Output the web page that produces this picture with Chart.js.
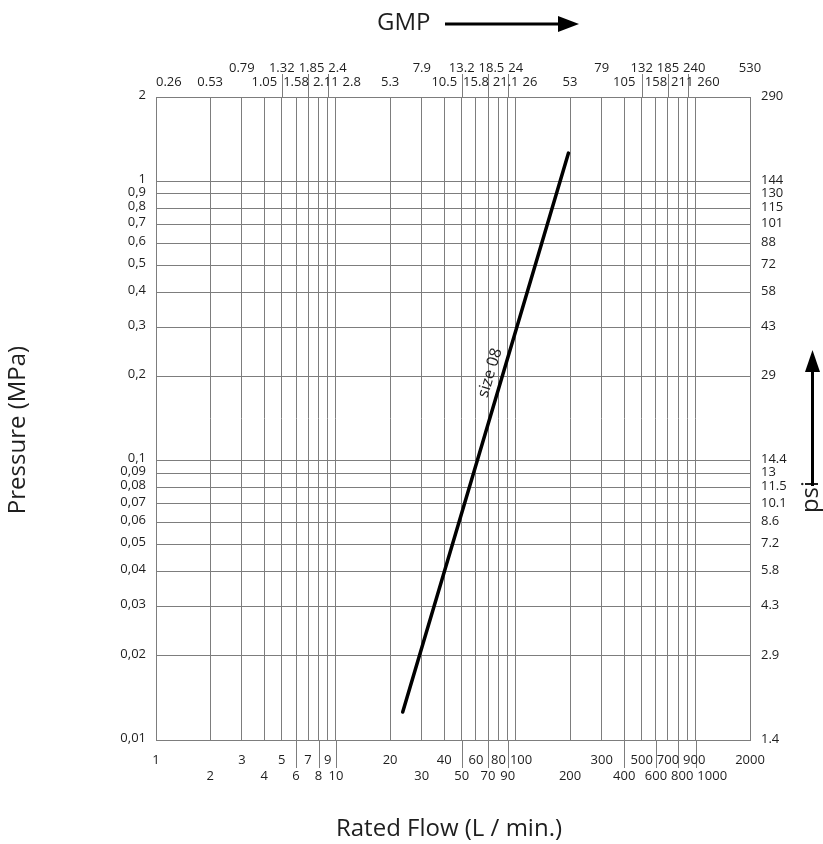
<!DOCTYPE html>
<html>
<head>
<meta charset="utf-8">
<script src="https://cdn.jsdelivr.net/npm/chart.js@4/dist/chart.umd.min.js"></script>
<style>
  html, body { margin: 0; padding: 0; background: #fff; }
  #wrap { width: 823px; height: 844px; position: relative; }
</style>
</head>
<body>
<div id="wrap"><canvas id="chart"></canvas></div>
<script>
// Daten
const flowTicks = [1, 2, 3, 4, 5, 6, 7, 8, 9, 10, 20, 30, 40, 50, 60, 70, 80, 90, 100,
  200, 300, 400, 500, 600, 700, 800, 900, 1000, 2000];
const gpmLabels = ["0.26", "0.53", "0.79", "1.05", "1.32", "1.58", "1.85", "2.11", "2.4", "2.8",
  "5.3", "7.9", "10.5", "13.2", "15.8", "18.5", "21.1", "24", "26",
  "53", "79", "105", "132", "158", "185", "211", "240", "260", "530"];
const pressureTicks = [2, 1, 0.9, 0.8, 0.7, 0.6, 0.5, 0.4, 0.3, 0.2,
  0.1, 0.09, 0.08, 0.07, 0.06, 0.05, 0.04, 0.03, 0.02, 0.01];
const psiLabels = ["290", "144", "130", "115", "101", "88", "72", "58", "43", "29",
  "14.4", "13", "11.5", "10.1", "8.6", "7.2", "5.8", "4.3", "2.9", "1.4"];

// Kennlinie size 08
const seriesName = "size 08";
const seriesFlow = [23.5, 196];
const seriesPressure = [0.0126, 1.26];

// Layout der Beschriftungen (obere Reihe 0, untere Reihe 1)
const topRow = [1, 1, 0, 1, 0, 1, 0, 1, 0, 1, 1, 0, 1, 0, 1, 0, 1, 0, 1, 1, 0, 1, 0, 1, 0, 1, 0, 1, 0];
const extendTop = [5, 7, 9, 50, 70, 90, 500, 700, 900];
const extendBottom = [6, 8, 10, 50, 70, 90, 400, 600, 800, 1000];

const FONT = '"Open Sans", "Noto Sans", sans-serif';
const TEXT = "#1e1e1e";
const GRID = "#7d7d7d";

// Zeichnet Labels in zwei Reihen und schiebt sie auseinander, wenn sie sich überlappen
function drawRowLabels(ctx, xs, labels, rows, yRows, minLeft) {
  const prevRight = [-Infinity, -Infinity];
  labels.forEach((txt, i) => {
    const r = rows[i];
    const w = ctx.measureText(txt).width;
    let left = xs[i] - w / 2;
    if (left < minLeft) left = minLeft;
    if (left < prevRight[r] + 4) left = prevRight[r] + 4;
    ctx.fillText(txt, left, yRows[r]);
    prevRight[r] = left + w;
  });
}

const chartPlugin = {
  id: "pressureChart",
  beforeDatasetsDraw(chart) {
    const { ctx, chartArea: a } = chart;
    ctx.save();
    ctx.strokeStyle = GRID;
    ctx.lineWidth = 1;
    ctx.strokeRect(Math.round(a.left) + 0.5, Math.round(a.top) + 0.5,
      Math.round(a.right - a.left), Math.round(a.bottom - a.top));
    ctx.restore();
  },
  afterDraw(chart) {
    const { ctx, chartArea: a, scales } = chart;
    const x = scales.x, y = scales.y;
    ctx.save();

    // verlängerte Teilstriche
    ctx.strokeStyle = GRID;
    ctx.lineWidth = 1;
    extendTop.forEach(v => {
      const px = Math.round(x.getPixelForValue(v)) + 0.5;
      ctx.beginPath(); ctx.moveTo(px, a.top); ctx.lineTo(px, a.top - 23); ctx.stroke();
    });
    extendBottom.forEach(v => {
      const px = Math.round(x.getPixelForValue(v)) + 0.5;
      ctx.beginPath(); ctx.moveTo(px, a.bottom); ctx.lineTo(px, a.bottom + 28); ctx.stroke();
    });

    ctx.fillStyle = TEXT;
    ctx.font = "13px " + FONT;
    ctx.textBaseline = "middle";

    // linke Achse (MPa)
    ctx.textAlign = "right";
    pressureTicks.forEach(v => {
      ctx.fillText(String(v).replace(".", ","), a.left - 10, y.getPixelForValue(v) - 2);
    });
    // rechte Achse (psi)
    ctx.textAlign = "left";
    pressureTicks.forEach((v, i) => {
      ctx.fillText(psiLabels[i], a.right + 11, y.getPixelForValue(v) - 1);
    });

    // untere und obere Achse
    const xs = flowTicks.map(v => x.getPixelForValue(v));
    const bottomRow = flowTicks.map((v, i) => i % 2);
    drawRowLabels(ctx, xs, flowTicks.map(String), bottomRow, [a.bottom + 20, a.bottom + 36], a.left - 4);
    drawRowLabels(ctx, xs, gpmLabels, topRow, [a.top - 29, a.top - 15], a.left);

    // Achsentitel
    ctx.font = "24px " + FONT;
    ctx.textAlign = "center";
    ctx.fillText("Rated Flow (L / min.)", (a.left + a.right) / 2 - 4, 829);
    ctx.save();
    ctx.translate(18, 430);
    ctx.rotate(-Math.PI / 2);
    ctx.fillText("Pressure (MPa)", 0, 0);
    ctx.restore();

    // GMP mit Pfeil
    ctx.textAlign = "left";
    ctx.fillText("GMP", 377, 23);
    ctx.fillStyle = "#000";
    ctx.strokeStyle = "#000";
    ctx.lineWidth = 3;
    ctx.beginPath(); ctx.moveTo(445, 24); ctx.lineTo(562, 24); ctx.stroke();
    ctx.beginPath(); ctx.moveTo(558, 16); ctx.lineTo(579, 24); ctx.lineTo(558, 32); ctx.closePath(); ctx.fill();

    // psi mit Pfeil
    ctx.fillStyle = TEXT;
    ctx.save();
    ctx.translate(811, 497);
    ctx.rotate(-Math.PI / 2);
    ctx.textAlign = "center";
    ctx.fillText("psi", 0, 0);
    ctx.restore();
    ctx.fillStyle = "#000";
    ctx.beginPath(); ctx.moveTo(812.5, 486); ctx.lineTo(812.5, 368); ctx.stroke();
    ctx.beginPath(); ctx.moveTo(805, 372); ctx.lineTo(812.5, 350); ctx.lineTo(820, 372); ctx.closePath(); ctx.fill();

    // Beschriftung der Kennlinie
    const x0 = x.getPixelForValue(seriesFlow[0]), y0 = y.getPixelForValue(seriesPressure[0]);
    const x1 = x.getPixelForValue(seriesFlow[1]), y1 = y.getPixelForValue(seriesPressure[1]);
    const ang = Math.atan2(y1 - y0, x1 - x0);
    const py = y.getPixelForValue(0.2);
    const px = x0 + (py - y0) * (x1 - x0) / (y1 - y0);
    ctx.translate(px, py);
    ctx.rotate(ang);
    ctx.fillStyle = TEXT;
    ctx.font = "16px " + FONT;
    ctx.textAlign = "center";
    ctx.textBaseline = "alphabetic";
    ctx.fillText(seriesName, 0, -8);
    ctx.restore();
  }
};

const canvas = document.querySelector("#chart");
const ctx = canvas.getContext("2d");

new Chart(ctx, {
  type: "line",
  data: {
    datasets: [
      {
        label: seriesName,
        data: seriesFlow.map((f, i) => ({ x: f, y: seriesPressure[i] })),
        borderColor: "#000",
        borderWidth: 3.5,
        borderCapStyle: "round",
        pointRadius: 0,
        fill: false,
        tension: 0,
      },
    ],
  },
  options: {
    responsive: true,
    maintainAspectRatio: false,
    animation: false,
    layout: { padding: { left: 156, right: 73, top: 97, bottom: 104 } },
    scales: {
      x: {
        type: "logarithmic",
        min: 1,
        max: 2000,
        afterBuildTicks: s => { s.ticks = flowTicks.map(v => ({ value: v })); },
        afterFit: s => { s.height = 0; },
        ticks: { display: false },
        grid: { color: GRID, lineWidth: 1, drawTicks: false },
        border: { display: false },
      },
      y: {
        type: "logarithmic",
        min: 0.01,
        max: 2,
        afterBuildTicks: s => { s.ticks = pressureTicks.map(v => ({ value: v })); },
        afterFit: s => { s.width = 0; },
        ticks: { display: false },
        grid: { color: GRID, lineWidth: 1, drawTicks: false },
        border: { display: false },
      },
    },
    plugins: {
      legend: { display: false },
      tooltip: { enabled: false },
    },
  },
  plugins: [chartPlugin],
});
</script>
</body>
</html>
